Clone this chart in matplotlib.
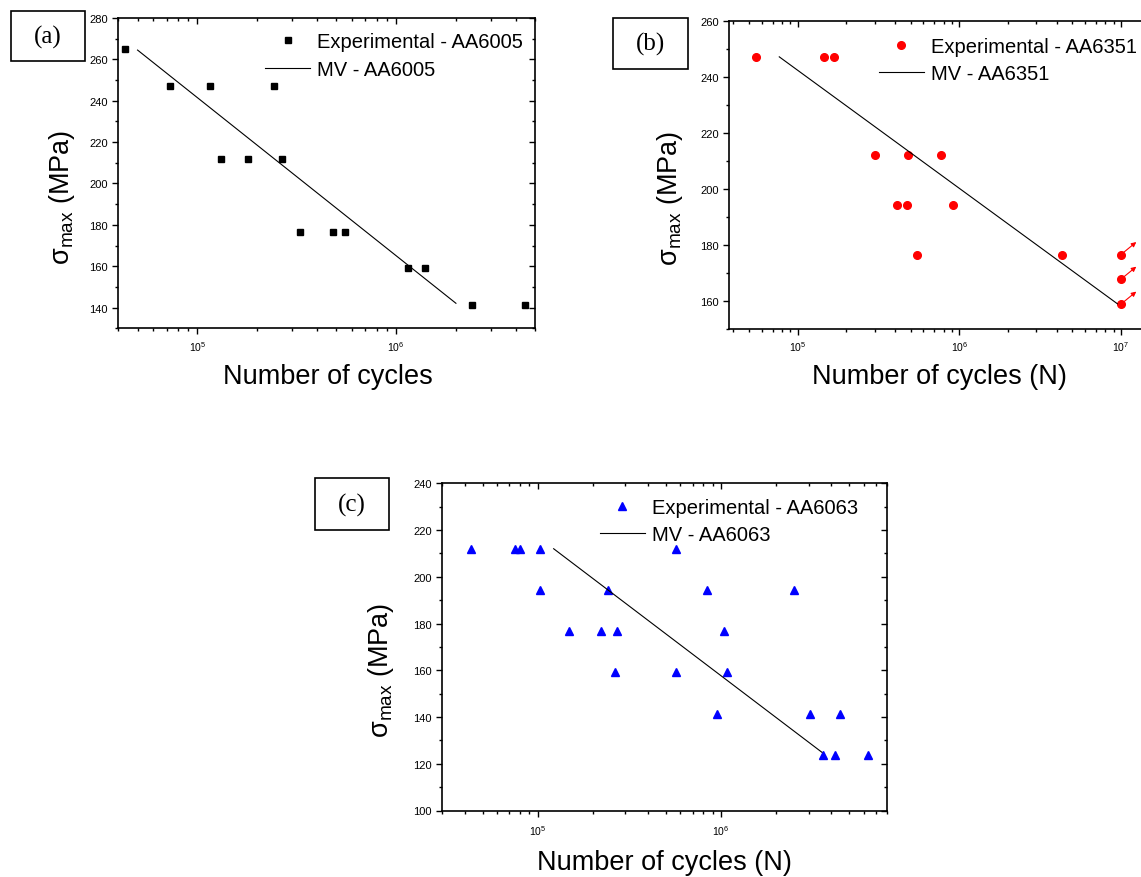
import matplotlib
matplotlib.use('Agg')
import matplotlib.pyplot as plt
from matplotlib.ticker import LogLocator, MultipleLocator, NullFormatter
from matplotlib.patches import Rectangle
from matplotlib.transforms import offset_copy

plt.rcParams['font.family'] = ['Liberation Sans', 'DejaVu Sans']
plt.rcParams['mathtext.fontset'] = 'custom'
plt.rcParams['mathtext.rm'] = 'Liberation Sans'
plt.rcParams['mathtext.it'] = 'Liberation Sans:italic'
plt.rcParams['mathtext.bf'] = 'Liberation Sans:bold'

# (a) AA6005
n_6005 = [43300, 72600, 115700, 131000, 179000, 242000, 266000, 327000,
          480000, 553000, 1.146e6, 1.39e6, 2.42e6, 4.43e6]
s_6005 = [265, 247.3, 247.3, 211.9, 211.9, 247.3, 211.9, 176.6,
          176.6, 176.6, 159, 159, 141.3, 141.3]
mv_n_6005 = [5.0e4, 2.0e6]
mv_s_6005 = [264.5, 142.1]

# (b) AA6351  (run-outs at 1e7 cycles kept apart, they get arrows)
n_6351 = [55200, 146000, 167000, 300000, 483000, 767000, 411000, 474000,
          912000, 546000, 4.33e6]
s_6351 = [247.2, 247.2, 247.2, 212, 212, 212, 194.3, 194.3, 194.3, 176.6, 176.6]
runout_n = [1e7, 1e7, 1e7]
runout_s = [176.6, 167.8, 158.9]
mv_n_6351 = [7.7e4, 9.5e6]
mv_s_6351 = [247.2, 159.0]

# (c) AA6063
n_6063 = [43400, 75300, 79800, 102900, 103000, 147500, 220600, 271000, 241600,
          264800, 570000, 565000, 837000, 1.035e6, 1.08e6, 949000, 2.5e6,
          3.04e6, 4.47e6, 3.6e6, 4.18e6, 6.34e6]
s_6063 = [212, 212, 212, 212, 194.4, 176.8, 176.8, 176.8, 194.4, 159.1, 212,
          159.1, 194.4, 176.8, 159.1, 141.4, 194.4, 141.4, 141.4, 123.8, 123.8, 123.8]
mv_n_6063 = [1.22e5, 3.55e6]
mv_s_6063 = [212, 124.9]

W, H = 1141, 878
fig = plt.figure(figsize=(W / 100, H / 100), dpi=100)


def px_axes(left, top, right, bottom):
    return fig.add_axes([left / W, 1 - bottom / H, (right - left) / W, (bottom - top) / H])


def setup(ax, xlim, ylim, xpad=3.5):
    ax.set_xscale('log')
    ax.set_xlim(xlim)
    ax.set_ylim(ylim)
    ax.yaxis.set_major_locator(MultipleLocator(20))
    ax.yaxis.set_minor_locator(MultipleLocator(10))
    ax.xaxis.set_major_locator(LogLocator(10))
    ax.xaxis.set_minor_locator(LogLocator(10, subs=range(2, 10)))
    ax.xaxis.set_minor_formatter(NullFormatter())
    ax.tick_params(which='both', direction='out', top=False, right=False, width=1)
    ax.tick_params(which='major', length=4)
    ax.tick_params(which='minor', length=2.5)
    ax.tick_params(axis='y', labelsize=8)
    ax.tick_params(axis='x', labelsize=7.5, pad=xpad)
    for sp in ax.spines.values():
        sp.set_linewidth(1.2)
    # inward ticks on top and right
    t = ax.twiny()
    t.set_xscale('log')
    t.set_xlim(xlim)
    t.xaxis.set_major_locator(LogLocator(10))
    t.xaxis.set_minor_locator(LogLocator(10, subs=range(2, 10)))
    t.tick_params(which='both', direction='in', top=True, bottom=False,
                  labeltop=False, labelbottom=False, width=1)
    t.tick_params(which='major', length=4.5)
    t.tick_params(which='minor', length=2.5)
    r = ax.twinx()
    r.set_ylim(ylim)
    r.yaxis.set_major_locator(MultipleLocator(20))
    r.yaxis.set_minor_locator(MultipleLocator(10))
    r.tick_params(which='both', direction='in', right=True, left=False,
                  labelright=False, labelleft=False, width=1)
    r.tick_params(which='major', length=4.5)
    r.tick_params(which='minor', length=2.5)
    for tw in (t, r):
        for sp in tw.spines.values():
            sp.set_visible(False)


def labels(ax, xlabel, xl, yl):
    ax.set_xlabel(xlabel, fontsize=19.5)
    ax.xaxis.set_label_coords(*xl)
    ax.xaxis.label.set_va('center')
    ax.set_ylabel('σ$_{\\mathrm{max}}$ (MPa)', fontsize=19.5)
    ax.yaxis.set_label_coords(*yl)
    ax.yaxis.label.set_va('center')


def legend(ax, handles, names, left, top):
    ax.legend(handles, names, loc='upper left', bbox_to_anchor=(left / W, 1 - top / H),
              bbox_transform=fig.transFigure, frameon=False, fontsize=14.5,
              handlelength=2.24, handletextpad=0.35, labelspacing=0.4,
              borderpad=0, borderaxespad=0)


def tag(text, x0, y0, x1, y1):
    fig.add_artist(Rectangle((x0 / W, 1 - y1 / H), (x1 - x0) / W, (y1 - y0) / H,
                             transform=fig.transFigure, fill=False, lw=1.2, ec='black'))
    fig.text((x0 + x1) / 2 / W, 1 - (y0 + y1) / 2 / H, text, family='Liberation Serif',
             fontsize=18, ha='center', va='center')


# ---- (a)
ax1 = px_axes(118.3, 19, 535, 329.3)
setup(ax1, (4e4, 5e6), (130, 280))
p1, = ax1.plot(n_6005, s_6005, 's', color='black', ms=5, ls='none')
l1, = ax1.plot(mv_n_6005, mv_s_6005, '-', color='black', lw=0.8)
labels(ax1, 'Number of cycles', (0.5033, -0.1553), (-0.1351, 0.4264))
legend(ax1, [p1, l1], ['Experimental - AA6005', 'MV - AA6005'], 265, 33.5)
tag('(a)', 11, 12.3, 85, 62.3)

# ---- (b)
ax2 = px_axes(729.3, 22, 1169.7, 330)
setup(ax2, (3.78e4, 2e7), (150, 260))
p2, = ax2.plot(n_6351 + runout_n, s_6351 + runout_s, 'o', color='#ff0000', ms=5.5, ls='none')
l2, = ax2.plot(mv_n_6351, mv_s_6351, '-', color='black', lw=0.8)
head = offset_copy(ax2.transData, fig=fig, x=11, y=9, units='points')
for n, s in zip(runout_n, runout_s):
    ax2.annotate('', xy=(n, s), xycoords=head, xytext=(n, s), textcoords='data',
                 arrowprops=dict(arrowstyle='-|>', color='#ff0000', lw=0.8,
                                 mutation_scale=7, shrinkA=0, shrinkB=0))
labels(ax2, 'Number of cycles (N)', (0.4775, -0.1542), (-0.1347, 0.4286))
legend(ax2, [p2, l2], ['Experimental - AA6351', 'MV - AA6351'], 878.7, 38)
tag('(b)', 613.3, 19, 688.3, 70.3)

# ---- (c)
ax3 = px_axes(442, 484.3, 886.6, 811.5)
setup(ax3, (3e4, 8e6), (100, 240), xpad=5)
p3, = ax3.plot(n_6063, s_6063, '^', color='#0000ff', ms=6, ls='none')
l3, = ax3.plot(mv_n_6063, mv_s_6063, '-', color='black', lw=0.8)
labels(ax3, 'Number of cycles (N)', (0.5005, -0.1559), (-0.1372, 0.4303))
legend(ax3, [p3, l3], ['Experimental - AA6063', 'MV - AA6063'], 599.6, 499)
tag('(c)', 314.7, 479.3, 389.3, 530.7)

fig.savefig('out.png', dpi=100)
